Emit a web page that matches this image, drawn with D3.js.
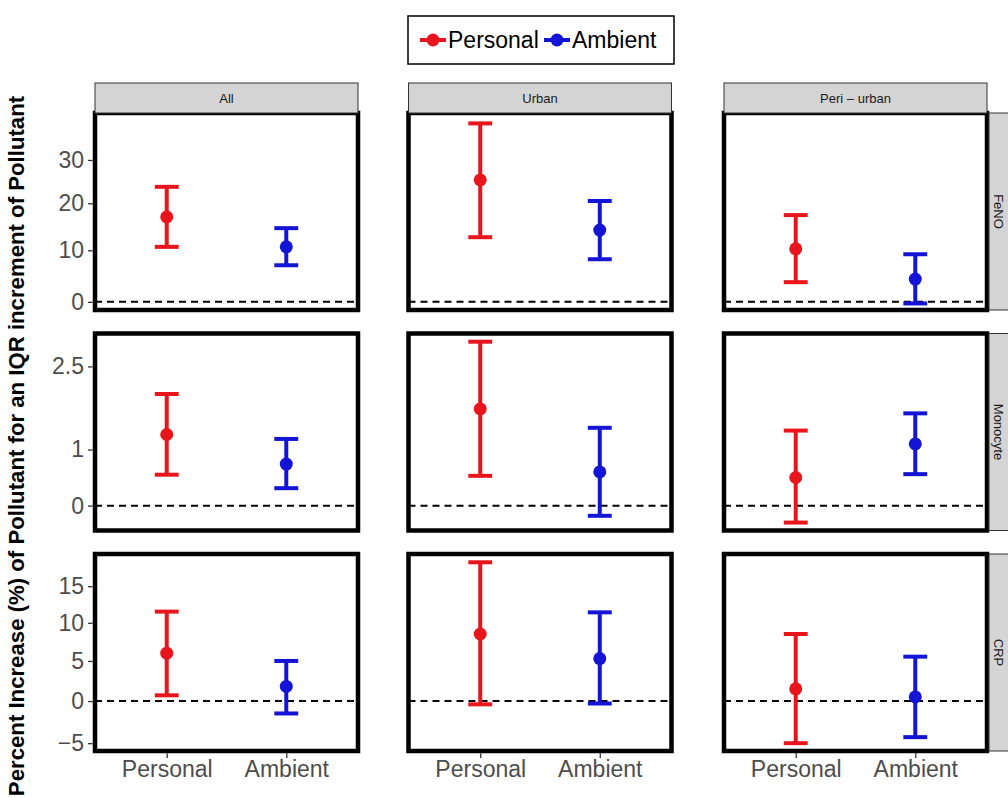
<!DOCTYPE html>
<html>
<head>
<meta charset="utf-8">
<script src="https://cdn.jsdelivr.net/npm/d3@7"></script>
<style>
  html, body { margin: 0; padding: 0; background: #fff; }
  svg { display: block; font-family: "Liberation Sans", Arial, sans-serif; }
</style>
</head>
<body>
<svg id="chart" width="1008" height="798"></svg>
<script>
// ---------------- DATA ----------------
const columns = ["All", "Urban", "Peri \u2013 urban"];
const outcomes = ["FeNO", "Monocyte", "CRP"];
const exposures = ["Personal", "Ambient"];
const seriesColors = ["#e8161c", "#1414d6"];

// estimates [column][exposure]
const fenoEst   = [[17.0, 10.7], [25.3, 14.2], [10.3, 4.3]];
const fenoLow   = [[10.7, 7.0],  [12.7, 8.2],  [3.7, -0.3]];
const fenoHigh  = [[23.7, 14.6], [39.1, 20.5], [17.4, 9.2]];

const monoEst   = [[1.27, 0.74], [1.73, 0.60], [0.50, 1.10]];
const monoLow   = [[0.55, 0.31], [0.53, -0.18], [-0.30, 0.56]];
const monoHigh  = [[2.00, 1.19], [2.95, 1.39], [1.34, 1.65]];

const crpEst    = [[6.0, 1.8],   [8.5, 5.3],   [1.5, 0.5]];
const crpLow    = [[0.7, -1.5],  [-0.4, -0.3], [-5.0, -4.3]];
const crpHigh   = [[11.5, 5.0],  [18.4, 11.4], [8.5, 5.55]];

const fenoTicks = [0, 10, 20, 30];
const monoTicks = [0, 1, 2.5];
const crpTicks  = [-5, 0, 5, 10, 15];

// y limits (percent) for each row
const fenoLimits = [-1.5, 41.8];
const monoLimits = [-0.44, 3.10];
const crpLimits  = [-5.9, 19.6];

const yTitle = "Percent Increase (%) of Pollutant for an IQR increment of Pollutant";

// -------------- LAYOUT --------------
const rowsData = [
  {name: outcomes[0], est: fenoEst, low: fenoLow, high: fenoHigh, ticks: fenoTicks, lim: fenoLimits},
  {name: outcomes[1], est: monoEst, low: monoLow, high: monoHigh, ticks: monoTicks, lim: monoLimits},
  {name: outcomes[2], est: crpEst,  low: crpLow,  high: crpHigh,  ticks: crpTicks,  lim: crpLimits}
];

const panelW = 263, panelH = 197;
const colLeft = [95, 408.5, 724];
const rowTop = [113, 333.5, 554];
const stripH = 30, stripW = 30;

const svg = d3.select("#chart");

const fmt = v => (v < 0 ? "\u2212" + Math.abs(v) : String(v));

rowsData.forEach((row, ri) => {
  const y = d3.scaleLog()
    .domain([100 + row.lim[0], 100 + row.lim[1]])
    .range([panelH, 0]);

  columns.forEach((col, ci) => {
    const x = d3.scalePoint().domain(exposures).range([0, panelW]).padding(0.6);
    const capW = x.step() * 0.2;
    const g = svg.append("g").attr("transform", `translate(${colLeft[ci]},${rowTop[ri]})`);

    g.append("rect").attr("width", panelW).attr("height", panelH).attr("fill", "#fff");

    // zero reference line
    g.append("line")
      .attr("x1", 0).attr("x2", panelW)
      .attr("y1", y(100)).attr("y2", y(100))
      .attr("stroke", "#000").attr("stroke-width", 2)
      .attr("stroke-dasharray", "7,5");

    exposures.forEach((ex, ei) => {
      const cx = x(ex);
      const color = seriesColors[ei];
      const lo = y(100 + row.low[ci][ei]);
      const hi = y(100 + row.high[ci][ei]);
      const eb = g.append("g").attr("stroke", color).attr("stroke-width", 4).attr("fill", "none");
      eb.append("line").attr("x1", cx).attr("x2", cx).attr("y1", lo).attr("y2", hi);
      eb.append("line").attr("x1", cx - capW / 2).attr("x2", cx + capW / 2).attr("y1", lo).attr("y2", lo);
      eb.append("line").attr("x1", cx - capW / 2).attr("x2", cx + capW / 2).attr("y1", hi).attr("y2", hi);
      g.append("circle").attr("cx", cx).attr("cy", y(100 + row.est[ci][ei])).attr("r", 6.5).attr("fill", color);
    });

    // border
    g.append("rect").attr("width", panelW).attr("height", panelH)
      .attr("fill", "none").attr("stroke", "#000").attr("stroke-width", 4.5);

    // y axis on first column
    if (ci === 0) {
      const ax = g.append("g").call(
        d3.axisLeft(y).tickValues(row.ticks.map(t => 100 + t))
          .tickFormat(d => fmt(Math.round((d - 100) * 10) / 10))
          .tickSize(7).tickPadding(4)
      );
      ax.select(".domain").remove();
      ax.selectAll(".tick line").attr("stroke", "#333").attr("stroke-width", 1.3).attr("x1", -2.2);
      ax.selectAll(".tick text").attr("fill", "#4d4d4d").style("font-size", "23px")
        .style("font-family", "'Liberation Sans', Arial, sans-serif");
    }
    // x axis on bottom row
    if (ri === rowsData.length - 1) {
      const ax = g.append("g").attr("transform", `translate(0,${panelH})`).call(
        d3.axisBottom(x).tickSize(7).tickPadding(3)
      );
      ax.select(".domain").remove();
      ax.selectAll(".tick line").attr("stroke", "#333").attr("stroke-width", 1.3).attr("y1", 2.2);
      ax.selectAll(".tick text").attr("fill", "#4d4d4d").style("font-size", "23px")
        .style("font-family", "'Liberation Sans', Arial, sans-serif");
    }

    // top strip
    if (ri === 0) {
      const s = svg.append("g").attr("transform", `translate(${colLeft[ci]},${rowTop[0] - stripH})`);
      s.append("rect").attr("width", panelW).attr("height", stripH)
        .attr("fill", "#d4d4d4").attr("stroke", "#333").attr("stroke-width", 1);
      s.append("text").attr("x", panelW / 2).attr("y", stripH / 2).attr("dy", "0.35em")
        .attr("text-anchor", "middle").attr("fill", "#1a1a1a").style("font-size", "13px").text(col);
    }
    // right strip
    if (ci === columns.length - 1) {
      const s = svg.append("g").attr("transform", `translate(${colLeft[ci] + panelW + 2},${rowTop[ri]})`);
      s.append("rect").attr("width", stripW).attr("height", panelH)
        .attr("fill", "#d4d4d4").attr("stroke", "#333").attr("stroke-width", 1);
      s.append("text").attr("transform", `translate(${stripW / 2 - 5},${panelH / 2}) rotate(90)`)
        .attr("dy", "0.35em").attr("text-anchor", "middle").attr("fill", "#1a1a1a")
        .style("font-size", "13px").text(row.name);
    }
  });
});

// y title
svg.append("text")
  .attr("transform", "translate(16,446) rotate(-90)")
  .attr("dy", "0.35em")
  .attr("text-anchor", "middle")
  .attr("font-weight", "bold")
  .attr("fill", "#000")
  .style("font-size", "22.2px")
  .text(yTitle);

// legend
const lg = svg.append("g").attr("transform", "translate(408,16)");
lg.append("rect").attr("width", 266).attr("height", 48)
  .attr("fill", "#fff").attr("stroke", "#000").attr("stroke-width", 1.5);
const legendKeyX = [12, 136];
exposures.forEach((ex, ei) => {
  const k = lg.append("g").attr("transform", `translate(${legendKeyX[ei]},24)`);
  k.append("line").attr("x1", 0).attr("x2", 26).attr("y1", 0).attr("y2", 0)
    .attr("stroke", seriesColors[ei]).attr("stroke-width", 4);
  k.append("circle").attr("cx", 13).attr("cy", 0).attr("r", 6.5).attr("fill", seriesColors[ei]);
  k.append("text").attr("x", 28).attr("dy", "0.36em").attr("fill", "#000")
    .style("font-size", "23px").text(ex);
});
</script>
</body>
</html>
